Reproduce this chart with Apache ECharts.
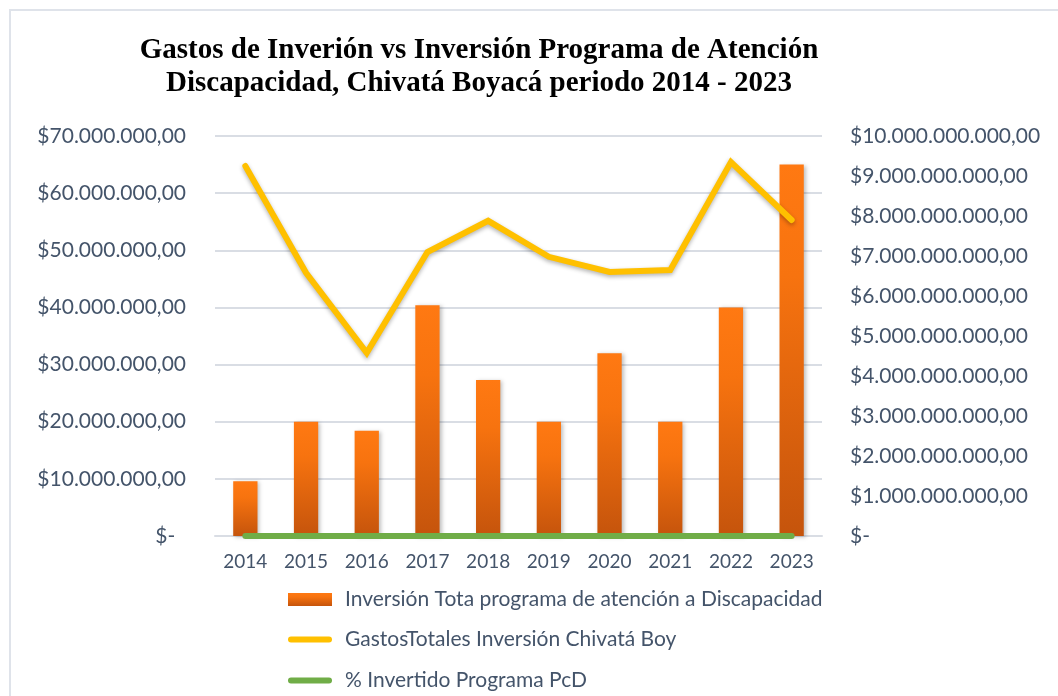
<!DOCTYPE html>
<html>
<head>
<meta charset="utf-8">
<script src="https://cdn.jsdelivr.net/npm/echarts@6/dist/echarts.min.js"></script>
<style>
  html, body { margin: 0; padding: 0; background: #fff; }
  #chart { width: 1058px; height: 696px; }
</style>
</head>
<body>
<div id="chart"></div>
<script>
// data
const years = ['2014', '2015', '2016', '2017', '2018', '2019', '2020', '2021', '2022', '2023'];
const inversionPcd = [9.6e6, 20e6, 18.4e6, 40.4e6, 27.3e6, 20e6, 32e6, 20e6, 40e6, 65e6];
const gastosTotales = [9.25e9, 6.58e9, 4.58e9, 7.1e9, 7.88e9, 6.98e9, 6.6e9, 6.65e9, 9.35e9, 7.9e9];
const pctInvertido = [0.001, 0.003, 0.004, 0.0057, 0.0035, 0.0029, 0.0048, 0.003, 0.0043, 0.0082];

const seriesNames = [
  'Inversión Tota programa de atención a Discapacidad',
  'GastosTotales Inversión Chivatá Boy',
  '% Invertido Programa PcD'
];

const labelColor = '#44546a';
const font = 'Lato, "Open Sans", sans-serif';

function money(v) {
  if (v === 0) return '$-  ';
  const s = Math.round(v).toString().replace(/\B(?=(\d{3})+(?!\d))/g, '.');
  return '$' + s + ',00';
}

// one legend box per entry so each row sits where it does in the picture
const barIcon = 'path://M0,0 L44,0 L44,13 L0,13 Z';
const lineIcon = 'path://M3,0 L41,0 A3,3 0 0 1 41,6 L3,6 A3,3 0 0 1 3,0 Z';
const legendRow = (name, icon, top, color) => ({
  left: 283,
  top: top,
  itemWidth: 44,
  itemHeight: 14,
  itemGap: 0,
  textStyle: { color: labelColor, fontSize: 21, fontFamily: font, padding: [0, 0, 0, 8] },
  data: [color ? { name, icon, itemStyle: { color } } : { name, icon }]
});

const chart = echarts.init(document.getElementById('chart'));

chart.setOption({
  animation: false,
  title: {
    text: 'Gastos de Inverión vs Inversión Programa de Atención\nDiscapacidad, Chivatá Boyacá periodo 2014 - 2023',
    left: 474,
    top: 29,
    textAlign: 'center',
    textStyle: {
      fontFamily: '"Liberation Serif", "Times New Roman", serif',
      fontWeight: 'bold',
      fontSize: 29,
      lineHeight: 33,
      color: '#000'
    }
  },
  graphic: [{
    type: 'rect',
    shape: { x: 10, y: 10, width: 1100, height: 720 },
    style: { fill: 'none', stroke: '#dfe3ea', lineWidth: 2 },
    silent: true
  }],
  grid: { left: 215, right: 236, top: 136, bottom: 160, containLabel: false },
  legend: [
    legendRow(seriesNames[0], barIcon, 584),
    legendRow(seriesNames[1], lineIcon, 624, '#ffc000'),
    legendRow(seriesNames[2], lineIcon, 665, '#70ad47')
  ],
  xAxis: {
    type: 'category',
    data: years,
    axisLine: { lineStyle: { color: '#d9dde4', width: 2 } },
    axisTick: { show: false },
    axisLabel: { color: labelColor, fontSize: 19, fontFamily: font, margin: 16 }
  },
  yAxis: [{
    type: 'value',
    min: 0,
    max: 70e6,
    interval: 10e6,
    axisLine: { show: false },
    axisTick: { show: false },
    splitLine: { lineStyle: { color: '#d9dde4', width: 2 } },
    axisLabel: { color: labelColor, fontSize: 21, fontFamily: font, margin: 29, formatter: money }
  }, {
    type: 'value',
    min: 0,
    max: 10e9,
    interval: 1e9,
    axisLine: { show: false },
    axisTick: { show: false },
    splitLine: { show: false },
    axisLabel: { color: labelColor, fontSize: 21, fontFamily: font, margin: 28, formatter: v => v === 0 ? '$-' : money(v) }
  }],
  series: [{
    name: seriesNames[0],
    type: 'bar',
    yAxisIndex: 0,
    data: inversionPcd,
    barWidth: '40%',
    itemStyle: {
      color: new echarts.graphic.LinearGradient(0, 0, 0, 1, [
        { offset: 0, color: '#ff7912' },
        { offset: 0.3, color: '#f7730f' },
        { offset: 1, color: '#c5540c' }
      ]),
      shadowColor: 'rgba(0,0,0,0.25)',
      shadowBlur: 4,
      shadowOffsetX: 2,
      shadowOffsetY: 1
    }
  }, {
    name: seriesNames[1],
    type: 'line',
    yAxisIndex: 1,
    data: gastosTotales,
    symbol: 'none',
    lineStyle: {
      color: '#ffc000',
      width: 6,
      cap: 'round',
      join: 'miter',
      shadowColor: 'rgba(0,0,0,0.3)',
      shadowBlur: 4,
      shadowOffsetY: 2
    },
    itemStyle: { color: '#ffc000' }
  }, {
    name: seriesNames[2],
    type: 'line',
    yAxisIndex: 0,
    data: pctInvertido,
    symbol: 'none',
    lineStyle: { color: '#70ad47', width: 6, cap: 'round' },
    itemStyle: { color: '#70ad47' },
    z: 3
  }]
});
</script>
</body>
</html>
